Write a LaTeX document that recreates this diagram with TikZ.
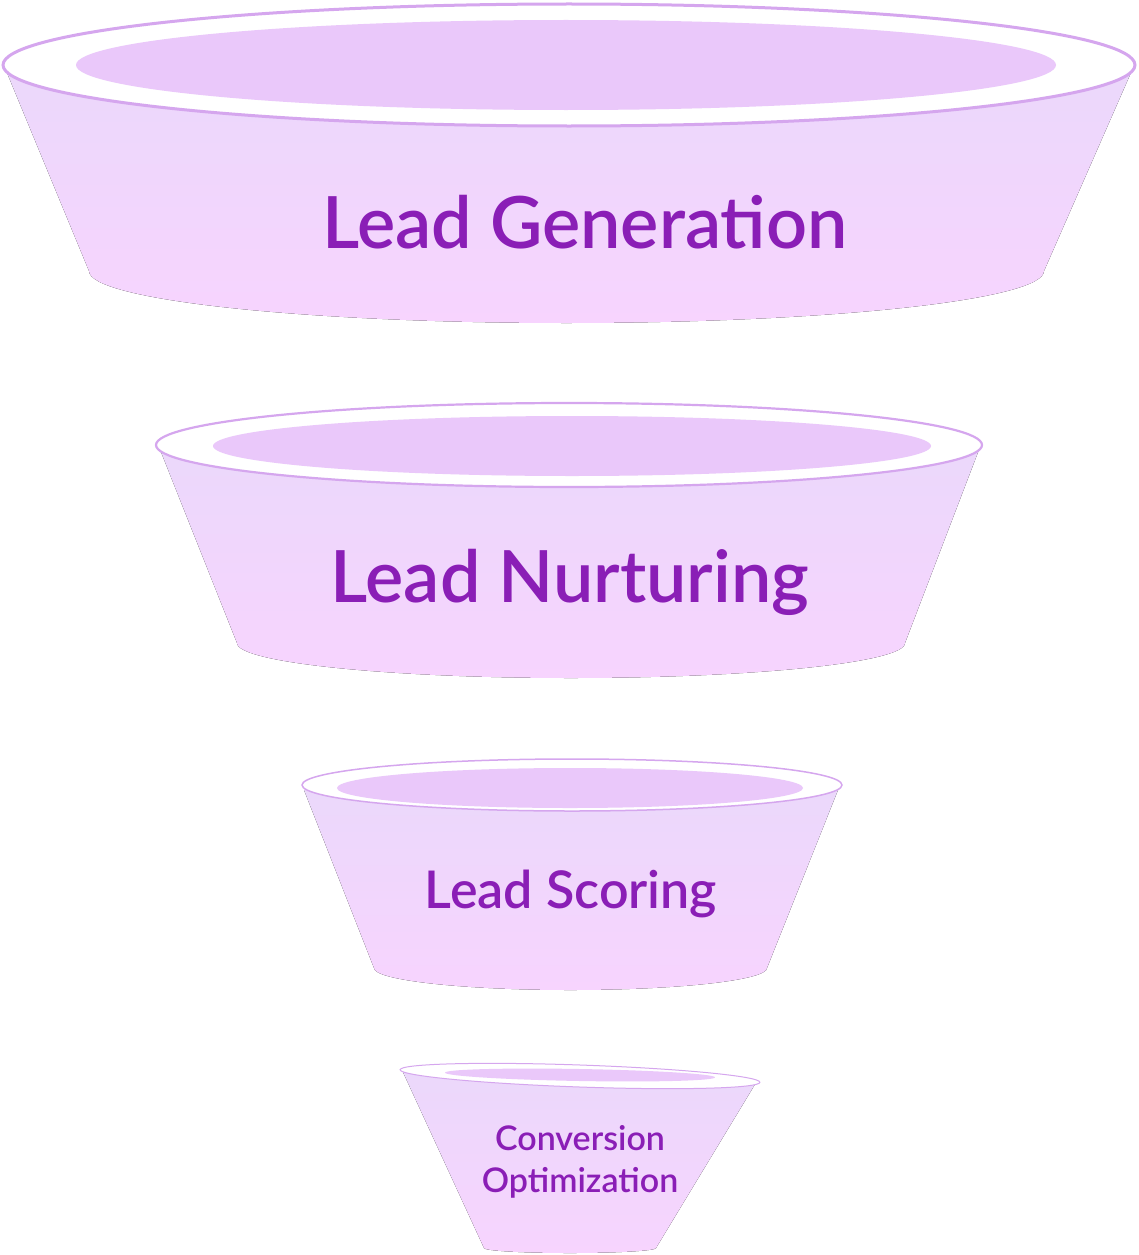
\documentclass[tikz,border=0pt]{standalone}
\usepackage{fontspec}
\setmainfont{Lato}
\IfFontExistsTF{Lato Semibold}
  {\newfontfamily\stagefont{Lato Semibold}}
  {\IfFontExistsTF{Lato Medium}
     {\newfontfamily\stagefont{Lato Medium}}
     {\newfontfamily\stagefont{Lato}[FakeBold=2]}}
\definecolor{ringline}{HTML}{D5A6EE}
\definecolor{innerfill}{HTML}{EAC8FA}
\definecolor{bodytop}{HTML}{EBD8FB}
\definecolor{bodybot}{HTML}{F7D4FE}
\definecolor{labelcol}{HTML}{8A1EB6}
\tikzset{
  bodyshape/.style={top color=bodytop, bottom color=bodybot, draw=none},
  ringshape/.style={fill=white, draw=ringline},
  innershape/.style={fill=innerfill, draw=none},
  stagelabel/.style={text=labelcol, align=center, inner sep=0pt}
}
% #1 top-left x, #2 top-right x, #3 top-left y, #4 top-right y, #5 bottom-left x, #6 bottom-right x, #7 bottom y, #8 bottom ry
\newcommand{\funnelbody}[8]{%
  \pgfmathsetmacro{\brx}{(#6-#5)/2}%
  \fill[bodyshape] (#1,#3) -- (#5,#7) arc[start angle=180, end angle=360, x radius=\brx, y radius=#8] -- (#2,#4) -- cycle;%
}
\begin{document}
\begin{tikzpicture}[x=1pt,y=1pt]
\useasboundingbox (0,0) rectangle (1138,-1255);

% Funnel 1
\funnelbody{5}{1133}{-68}{-68}{89}{1044}{-271}{52}
\draw[ringshape, line width=3pt] (569,-65) ellipse[x radius=566, y radius=61];
\fill[innershape] (566,-65) ellipse[x radius=490, y radius=45];
\node[stagelabel, font=\stagefont\fontsize{72}{80}\selectfont] (gen) at (585,-222) {Lead Generation};

% Funnel 2
\funnelbody{159}{980}{-447}{-447}{237}{905}{-643}{35}
\draw[ringshape, line width=2.2pt] (569,-445) ellipse[x radius=413, y radius=42];
\fill[innershape] (572,-446) ellipse[x radius=359, y radius=30];
\node[stagelabel, font=\stagefont\fontsize{72}{80}\selectfont] (nur) at (570,-582) {Lead Nurturing};

% Funnel 3
\funnelbody{304}{838}{-790}{-790}{374}{767}{-968}{22}
\draw[ringshape, line width=1.5pt] (572,-785) ellipse[x radius=270, y radius=26];
\fill[innershape] (570,-788) ellipse[x radius=233, y radius=20];
\node[stagelabel, font=\stagefont\fontsize{52}{60}\selectfont] (sco) at (571,-894) {Lead Scoring};

% Funnel 4
\funnelbody{402}{757}{-1070}{-1081}{484}{656}{-1248}{5}
\draw[ringshape, line width=1pt, rotate around={-2:(580,-1076)}] (580,-1076) ellipse[x radius=180, y radius=11];
\fill[innershape, rotate around={-1:(580,-1075)}] (580,-1075) ellipse[x radius=135, y radius=6];
\node[stagelabel, font=\stagefont\fontsize{34}{42}\selectfont] (conv) at (580,-1162) {Conversion\\Optimization};
\end{tikzpicture}
\end{document}
